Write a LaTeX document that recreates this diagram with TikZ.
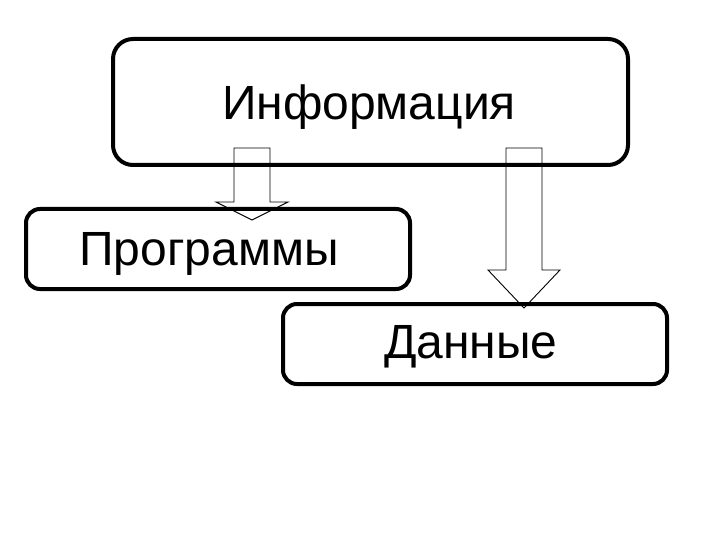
\documentclass[tikz,border=0pt]{standalone}
\usepackage{fontspec}
\setmainfont{Liberation Sans}
\begin{document}
\begin{tikzpicture}[x=1pt,y=-1pt,
  box/.style={draw=black,line width=4pt,rectangle,inner sep=0pt,anchor=north west},
  lbl/.style={inner sep=0pt,anchor=base,font=\fontsize{48}{50}\selectfont},
  blockarrow/.style={draw=black,line width=0.9pt,fill=white,line join=miter}]
\useasboundingbox (0,0) rectangle (720,540);
\fill[white] (0,0) rectangle (720,540);
% block arrows (under the boxes)
\coordinate (a1) at (252,148);
\coordinate (a2) at (524,148);
\draw[blockarrow] (234,148) -- (270,148) -- (270,202) -- (288,202) -- (252,220) -- (216,202) -- (234,202) -- cycle;
\draw[blockarrow] (506,148) -- (542,148) -- (542,270) -- (560,270) -- (524,308) -- (488,270) -- (506,270) -- cycle;
% boxes
\node[box,rounded corners=20pt,minimum width=515pt,minimum height=126pt] (info) at (111,37) {};
\node[box,rounded corners=14pt,minimum width=384pt,minimum height=80pt] (prog) at (24,207) {};
\node[box,rounded corners=14pt,minimum width=384pt,minimum height=80pt] (data) at (281,302) {};
% labels
\node[lbl] (tinfo) at (369,120) {Информация};
\node[lbl] (tprog) at (209,265) {Программы};
\node[lbl] (tdata) at (471,358) {Данные};
\end{tikzpicture}
\end{document}
